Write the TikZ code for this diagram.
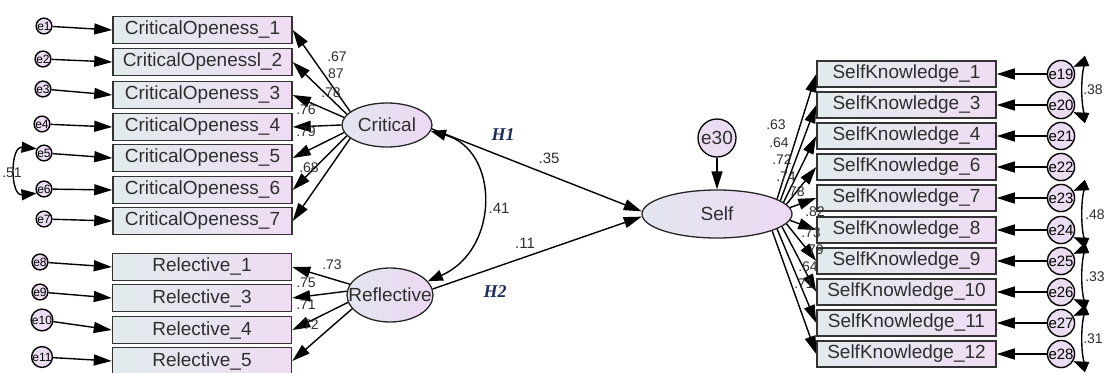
\documentclass[tikz,border=0pt]{standalone}
\usepackage{fontspec}
\setmainfont{Liberation Sans}
\newfontfamily\hfont{Liberation Serif}
\usetikzlibrary{arrows.meta,shapes.geometric}
\definecolor{boxL}{HTML}{E2EBEE}
\definecolor{boxR}{HTML}{EFDCF3}
\definecolor{ellL}{HTML}{E3E6F0}
\definecolor{ellR}{HTML}{EDD8F2}
\definecolor{errF}{HTML}{EBDDF1}
\definecolor{txt}{HTML}{2E2E2E}
\definecolor{hcol}{HTML}{1C2B5E}
\definecolor{edge}{HTML}{333333}
\begin{document}
\begin{tikzpicture}[x=1pt,y=-1pt,
  obs/.style={draw=edge, line width=1.5pt, left color=boxL, right color=boxR,
    minimum width=179pt, minimum height=27pt, inner sep=0pt,
    font=\fontsize{19}{19}\selectfont, text=txt},
  lat/.style={ellipse, draw=black!85, line width=1.3pt, left color=ellL, right color=ellR, inner sep=0pt},
  lattxt/.style={font=\fontsize{19}{19}\selectfont, text=txt, inner sep=0pt},
  err/.style={circle, draw=black, line width=1.4pt, fill=errF, inner sep=0pt,
    minimum size=15pt, font=\fontsize{12}{12}\selectfont, text=black},
  errR/.style={err, minimum size=20pt, font=\fontsize{15}{15}\selectfont},
  arr/.style={-{Triangle[length=18pt,width=11pt]}, line width=1.4pt},
  cov/.style={{Triangle[length=15pt,width=11pt]}-{Triangle[length=15pt,width=11pt]}, line width=1.4pt},
  lbl/.style={font=\fontsize{14}{14}\selectfont, text=txt, inner sep=0pt},
  plbl/.style={font=\fontsize{15}{15}\selectfont, text=txt, inner sep=0pt},
  hyp/.style={font=\fontsize{18}{18}\hfont\bfseries\itshape, text=hcol, inner sep=0pt}]
\useasboundingbox (0,0) rectangle (1105,372);

% left observed boxes
\node[obs] (co1) at (202.5,30) {CriticalOpeness\_1};
\node[obs] (co2) at (202.5,62) {CriticalOpenessl\_2};
\node[obs] (co3) at (202.5,95) {CriticalOpeness\_3};
\node[obs] (co4) at (202.5,127) {CriticalOpeness\_4};
\node[obs] (co5) at (202.5,158) {CriticalOpeness\_5};
\node[obs] (co6) at (202.5,190) {CriticalOpeness\_6};
\node[obs] (co7) at (202.5,221) {CriticalOpeness\_7};
\node[obs] (r1) at (202,267) {Relective\_1};
\node[obs] (r3) at (202,298) {Relective\_3};
\node[obs] (r4) at (202,330) {Relective\_4};
\node[obs] (r5) at (202,361) {Relective\_5};

% left errors
\node[err] (e1) at (44,26) {e1};
\node[err] (e2) at (43,59) {e2};
\node[err] (e3) at (43,89) {e3};
\node[err] (e4) at (42,124) {e4};
\node[err] (e5) at (44,153) {e5};
\node[err] (e6) at (44,189) {e6};
\node[err] (e7) at (44,219) {e7};
\node[err] (e8) at (40,262) {e8};
\node[err] (e9) at (40,292) {e9};
\node[err] (e10) at (42,320) {e10};
\node[err] (e11) at (42,357) {e11};
\foreach \e/\b in {e1/co1,e2/co2,e3/co3,e4/co4,e5/co5,e6/co6,e7/co7,e8/r1,e9/r3,e10/r4,e11/r5}
  \draw[arr] (\e) -- (\b.west);
\draw[cov] (e5.150) .. controls (10,146) and (10,196) .. (e6.-150);
\node[lbl] at (12,173) {.51};

% latent variables
\node[lat, minimum width=90pt, minimum height=44pt] (crit) at (387,125) {};
\node[lattxt] at (crit.center) {Critical};
\node[lat, minimum width=86pt, minimum height=54pt] (refl) at (390,295) {};
\node[lattxt] at (refl.center) {Reflective};
\node[lat, minimum width=150pt, minimum height=48pt] (self) at (717,214) {};
\node[lattxt] at (self.center) {Self};
\node[circle, draw=black, line width=1.3pt, fill=errF, minimum size=38pt, inner sep=0pt,
  font=\fontsize{19}{19}\selectfont, text=txt] (e30) at (717,138) {e30};
\draw[arr] (e30) -- (self.north);

% Critical loadings
\foreach \a/\b in {160/co1,165/co2,170/co3,180/co4,190/co5,195/co6,200/co7}
  \draw[arr] (crit.\a) -- (\b.east);
\node[lbl] at (337,57) {.67};
\node[lbl] at (334,74) {.87};
\node[lbl] at (331,93) {.78};
\node[lbl] at (306,110) {.76};
\node[lbl] at (306,132) {.79};
\node[lbl] at (309,168) {.68};

% Reflective loadings
\foreach \a/\b in {165/r1,175/r3,190/r4,200/r5}
  \draw[arr] (refl.\a) -- (\b.east);
\node[lbl] at (332,265) {.73};
\node[lbl] at (306,283) {.75};
\node[lbl] at (306,305) {.71};
\node[lbl] at (309,325) {.72};

% structural paths
\draw[arr] (crit.-5) -- (self.178);
\draw[arr] (refl.8) -- (self.182);
\draw[cov] (crit.-8) .. controls (500,150) and (500,250) .. (refl.20);
\node[plbl] at (549,158) {.35};
\node[plbl] at (499,208) {.41};
\node[plbl] at (525,243) {.11};
\node[hyp] at (503,135) {H1};
\node[hyp] at (495,292) {H2};

% right observed boxes
\node[obs, minimum height=26pt] (sk1) at (906.5,74) {SelfKnowledge\_1};
\node[obs, minimum height=26pt] (sk3) at (906.5,105) {SelfKnowledge\_3};
\node[obs, minimum height=26pt] (sk4) at (906.5,136) {SelfKnowledge\_4};
\node[obs, minimum height=26pt] (sk6) at (906.5,167) {SelfKnowledge\_6};
\node[obs, minimum height=26pt] (sk7) at (906.5,198) {SelfKnowledge\_7};
\node[obs, minimum height=26pt] (sk8) at (906.5,230) {SelfKnowledge\_8};
\node[obs, minimum height=26pt] (sk9) at (906.5,261) {SelfKnowledge\_9};
\node[obs, minimum height=26pt] (sk10) at (906.5,292) {SelfKnowledge\_10};
\node[obs, minimum height=26pt] (sk11) at (906.5,323) {SelfKnowledge\_11};
\node[obs, minimum height=26pt] (sk12) at (906.5,354) {SelfKnowledge\_12};

\foreach \a/\b in {14/sk1,12/sk3,10/sk4,8/sk6,5/sk7,-5/sk8,-8/sk9,-11/sk10,-14/sk11,-17/sk12}
  \draw[arr] (self.\a) -- (\b.west);
\node[lbl] at (776,125) {.63};
\node[lbl] at (779,143) {.64};
\node[lbl] at (782,160) {.72};
\node[lbl] at (786,177) {.74};
\node[lbl] at (795,192) {.78};
\node[lbl] at (815,212) {.82};
\node[lbl] at (811,233) {.73};
\node[lbl] at (814,250) {.79};
\node[lbl] at (808,267) {.64};
\node[lbl] at (804,284) {.71};

% right errors
\foreach \n/\y/\b in {19/74/sk1,20/105/sk3,21/136/sk4,22/167/sk6,23/198/sk7,24/230/sk8,25/261/sk9,26/292/sk10,27/323/sk11,28/354/sk12}{
  \node[errR] (e\n) at (1061,\y) {e\n};
  \draw[arr] (e\n) -- (\b.east);
}
\draw[cov] (e19.30) .. controls (1080,64) and (1080,115) .. (e20.-30);
\draw[cov] (e23.30) .. controls (1080,188) and (1080,240) .. (e24.-30);
\draw[cov] (e25.30) .. controls (1080,251) and (1080,302) .. (e26.-30);
\draw[cov] (e27.30) .. controls (1080,313) and (1080,364) .. (e28.-30);
\node[lbl] at (1093,90) {.38};
\node[lbl] at (1095,215) {.48};
\node[lbl] at (1095,277) {.33};
\node[lbl] at (1093,339) {.31};
\end{tikzpicture}
\end{document}
